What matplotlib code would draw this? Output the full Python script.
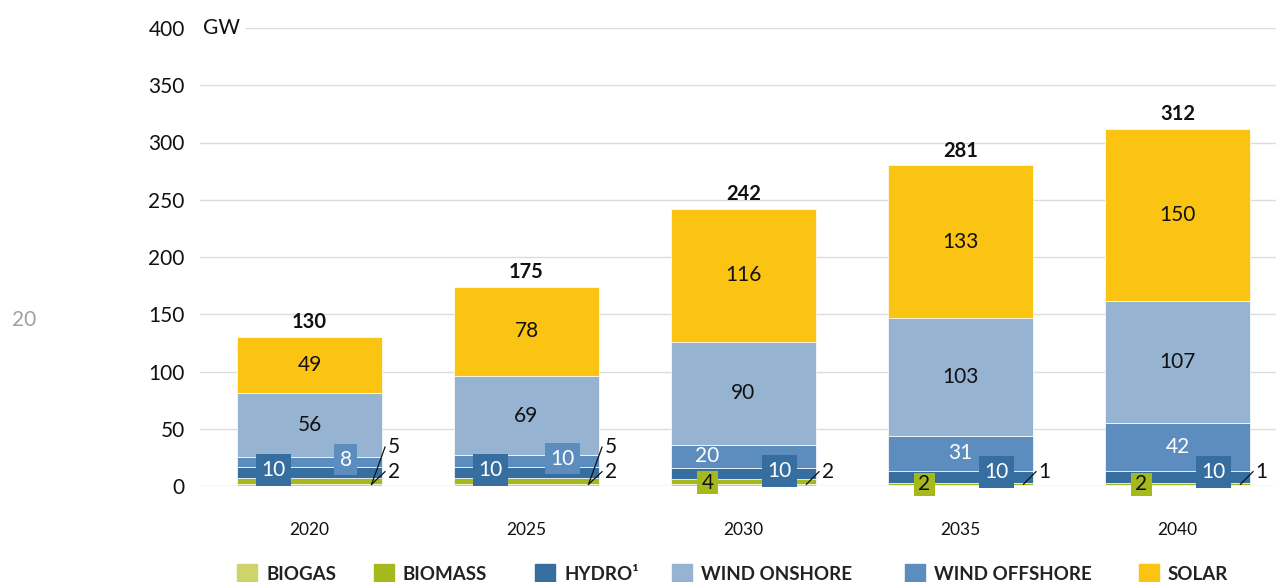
import matplotlib
matplotlib.use("Agg")
import matplotlib.pyplot as plt
from matplotlib.patches import Rectangle
import numpy as np

plt.rcParams["font.family"] = ["Lato", "DejaVu Sans"]

years = ["2020", "2025", "2030", "2035", "2040"]
biogas = [2, 2, 2, 1, 1]
biomass = [5, 5, 4, 2, 2]
hydro = [10, 10, 10, 10, 10]
offshore = [8, 10, 20, 31, 42]
onshore = [56, 69, 90, 103, 107]
solar = [49, 78, 116, 133, 150]
totals = [130, 175, 242, 281, 312]

legend_names = ["BIOGAS", "BIOMASS", "HYDRO¹", "WIND ONSHORE", "WIND OFFSHORE", "SOLAR"]

C_BIOGAS = "#cfd46a"
C_BIOMASS = "#a5b81c"
C_HYDRO = "#376ea0"
C_ONSHORE = "#96b3d2"
C_OFFSHORE = "#5c8dbe"
C_SOLAR = "#fbc412"

W, H = 1276, 582
fig = plt.figure(figsize=(W / 100, H / 100), dpi=100)
ax = fig.add_axes([200 / W, 1 - 486 / H, 1076 / W, 458 / H])

x = np.arange(len(years))
bw = 0.668

# stacking order from the bottom
stack = [
    (biogas, C_BIOGAS),
    (biomass, C_BIOMASS),
    (hydro, C_HYDRO),
    (offshore, C_OFFSHORE),
    (onshore, C_ONSHORE),
    (solar, C_SOLAR),
]
bottom = np.zeros(len(years))
bottoms = []
for vals, col in stack:
    ax.bar(x, vals, bw, bottom=bottom, color=col, edgecolor="white",
           linewidth=0.5, zorder=2)
    bottoms.append(bottom.copy())
    bottom = bottom + np.array(vals)

b_gas, b_mass, b_hyd, b_off, b_on, b_sol = bottoms
fs = 15
off = 0.166

for i in range(len(years)):
    # onshore / solar centered labels
    ax.text(x[i], b_on[i] + onshore[i] / 2, str(onshore[i]), ha="center",
            va="center", fontsize=fs, color="#111111", zorder=4)
    ax.text(x[i], b_sol[i] + solar[i] / 2, str(solar[i]), ha="center",
            va="center", fontsize=fs, color="#111111", zorder=4)
    # totals
    ax.annotate(str(totals[i]), (x[i], b_sol[i] + solar[i]), xytext=(0, 3.5),
                textcoords="offset points", ha="center", va="bottom",
                fontsize=14.5, fontweight="bold", color="#111111", zorder=4)

    hy = max(b_hyd[i] + hydro[i] / 2 + 2, 12)
    box = dict(boxstyle="square,pad=0.28", linewidth=0)
    if offshore[i] < 15:
        ax.text(x[i] - off, hy, str(hydro[i]), ha="center", va="center",
                fontsize=fs, color="white", zorder=5,
                bbox=dict(box, facecolor=C_HYDRO))
        ax.text(x[i] + off, b_off[i] + offshore[i] / 2 + 2, str(offshore[i]),
                ha="center", va="center", fontsize=fs, color="white", zorder=5,
                bbox=dict(box, facecolor=C_OFFSHORE))
        # leader lines for biomass and biogas
        for val, ty in [(biomass[i], 34), (biogas[i], 12.5)]:
            ax.plot([x[i] + 0.286, x[i] + 0.348], [1.5, ty], color="#111111",
                    linewidth=0.9, zorder=5, clip_on=False)
            ax.text(x[i] + 0.36, ty, str(val), ha="left", va="center",
                    fontsize=fs, color="#111111", zorder=5)
    else:
        ax.text(x[i] + off, hy, str(hydro[i]), ha="center", va="center",
                fontsize=fs, color="white", zorder=5,
                bbox=dict(box, facecolor=C_HYDRO))
        ox = x[i] - off if offshore[i] < 25 else x[i]
        ax.text(ox, b_off[i] + offshore[i] / 2, str(offshore[i]), ha="center",
                va="center", fontsize=fs, color="white", zorder=5)
        # biomass value in a compact green box
        my = b_mass[i] + biomass[i] / 4
        ax.add_patch(Rectangle((x[i] - off - 0.05, my - 10), 0.1, 20,
                               facecolor=C_BIOMASS, linewidth=0, zorder=5,
                               clip_on=False))
        ax.text(x[i] - off, my, str(biomass[i]), ha="center",
                va="center", fontsize=fs, color="#111111", zorder=6)
        ax.plot([x[i] + 0.29, x[i] + 0.348], [1.5, 12.5], color="#111111",
                linewidth=0.9, zorder=5, clip_on=False)
        ax.text(x[i] + 0.36, 12.5, str(biogas[i]), ha="left", va="center",
                fontsize=fs, color="#111111", zorder=5)

ax.set_xlim(-0.5046, 4.454)
ax.set_ylim(0, 400)
ax.set_yticks(np.arange(0, 401, 50))
ax.set_xticks(x)
ax.set_xticklabels(years)
ax.tick_params(axis="y", length=0, pad=11, labelsize=15, labelcolor="#111111")
ax.tick_params(axis="x", length=0, pad=26, labelsize=12.5, labelcolor="#111111")
ax.grid(axis="y", color="#dcdcdc", linewidth=1.0)
ax.set_axisbelow(True)
for s in ax.spines.values():
    s.set_visible(False)

ax.text(0.003, 400, "GW", transform=ax.get_yaxis_transform(), ha="left",
        va="center", fontsize=15, color="#111111", zorder=5,
        bbox=dict(boxstyle="square,pad=0.3", facecolor="white", linewidth=0))

# page number
fig.text(24 / W, 1 - 320 / H, "20", ha="center", va="center", fontsize=15,
         color="#a0a0a0")

# legend along the bottom
legend_cols = [C_BIOGAS, C_BIOMASS, C_HYDRO, C_ONSHORE, C_OFFSHORE, C_SOLAR]
legend_x = [237, 374, 535, 672, 905, 1139]
for lx, name, col in zip(legend_x, legend_names, legend_cols):
    fig.patches.append(Rectangle((lx / W, 0), 20 / W, 18 / H, color=col,
                                 transform=fig.transFigure, figure=fig))
    fig.text((lx + 29) / W, 1 - 575 / H, name, ha="left", va="center",
             fontsize=13.5, fontweight="bold", color="#222222")

fig.savefig("out.png", dpi=100)
